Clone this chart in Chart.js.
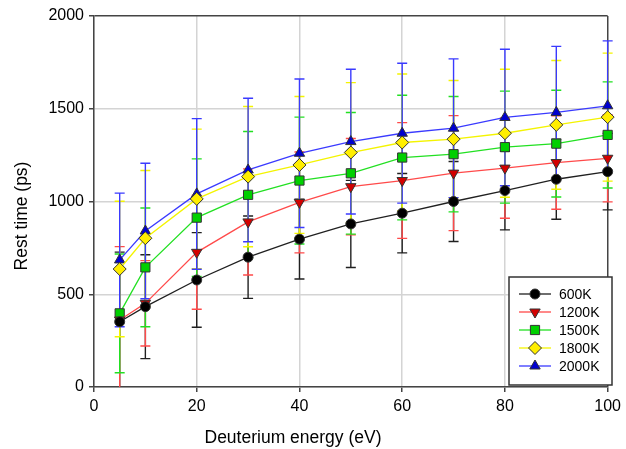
<!DOCTYPE html>
<html>
<head>
<meta charset="utf-8">
<script src="https://cdn.jsdelivr.net/npm/chart.js@4.4.0/dist/chart.umd.min.js"></script>
<style>
  html, body { margin: 0; padding: 0; background: #fff; }
  #wrap { width: 626px; height: 449px; }
</style>
</head>
<body>
<div id="wrap"><canvas id="grafico"></canvas></div>
<script>
// energia do deuterio (eV)
var energias = [5, 10, 20, 30, 40, 50, 60, 70, 80, 90, 100];

// tempo de repouso (ps) e barras de erro, uma serie por temperatura
var rotulos = ['600K', '1200K', '1500K', '1800K', '2000K'];
var t600  = [352, 433, 577, 700, 797, 879, 937, 1000, 1059, 1120, 1161];
var e600  = [375, 280, 255, 222, 215, 235, 214, 216, 212, 216, 206];
var t1200 = [361, 451, 726, 890, 995, 1080, 1113, 1153, 1180, 1210, 1233];
var e1200 = [396, 230, 307, 286, 272, 260, 312, 310, 270, 252, 235];
var t1500 = [397, 645, 913, 1036, 1113, 1152, 1237, 1255, 1293, 1312, 1359];
var e1500 = [320, 320, 317, 341, 342, 328, 336, 311, 302, 288, 286];
var t1800 = [636, 802, 1014, 1134, 1197, 1264, 1318, 1336, 1368, 1413, 1455];
var e1800 = [365, 365, 376, 378, 369, 377, 369, 316, 345, 347, 345];
var t2000 = [685, 841, 1041, 1170, 1260, 1323, 1368, 1395, 1453, 1480, 1516];
var e2000 = [360, 365, 406, 387, 400, 390, 377, 374, 368, 356, 350];

var ticksX = [0, 20, 40, 60, 80, 100];
var ticksY = [0, 500, 1000, 1500, 2000];
var tituloX = 'Deuterium energy (eV)';
var tituloY = 'Rest time (ps)';

var fonte = "'Liberation Sans', Arial, sans-serif";

var series = [
  { dados: t600,  erros: e600,  linha: '#202020', fundo: '#000000', estilo: 'circle',   raio: 5,   rot: 0 },
  { dados: t1200, erros: e1200, linha: '#ff4a4a', fundo: '#d40000', estilo: 'triangle', raio: 6,   rot: 180 },
  { dados: t1500, erros: e1500, linha: '#22e022', fundo: '#00d000', estilo: 'rect',     raio: 6.5, rot: 0 },
  { dados: t1800, erros: e1800, linha: '#f4f400', fundo: '#ffee00', estilo: 'rectRot',  raio: 6.5, rot: 0 },
  { dados: t2000, erros: e2000, linha: '#3a3aff', fundo: '#0000d0', estilo: 'triangle', raio: 6,   rot: 0 }
];

function criarDatasets() {
  return series.map(function (s, i) {
    return {
      label: rotulos[i],
      data: energias.map(function (x, j) { return { x: x, y: s.dados[j] }; }),
      borderColor: s.linha,
      borderWidth: 1.3,
      backgroundColor: s.fundo,
      pointBackgroundColor: s.fundo,
      pointBorderColor: '#333333',
      pointBorderWidth: 1,
      pointStyle: s.estilo,
      pointRadius: s.raio,
      pointRotation: s.rot,
      tension: 0,
      fill: false,
      clip: false
    };
  });
}

// barras de erro desenhadas com as escalas do grafico
var barrasErro = {
  id: 'barrasErro',
  beforeDatasetsDraw: function (chart) {
    var ctx = chart.ctx, xs = chart.scales.x, ys = chart.scales.y, area = chart.chartArea;
    ctx.save();
    ctx.beginPath();
    ctx.rect(area.left - 10, area.top - 1, area.right - area.left + 20, area.bottom - area.top + 1);
    ctx.clip();
    series.forEach(function (s) {
      ctx.strokeStyle = s.linha;
      ctx.lineWidth = 1.4;
      energias.forEach(function (x, j) {
        var px = xs.getPixelForValue(x);
        var alto = ys.getPixelForValue(s.dados[j] + s.erros[j]);
        var baixo = ys.getPixelForValue(s.dados[j] - s.erros[j]);
        ctx.beginPath();
        ctx.moveTo(px, alto); ctx.lineTo(px, baixo);
        ctx.moveTo(px - 5, alto); ctx.lineTo(px + 5, alto);
        ctx.moveTo(px - 5, baixo); ctx.lineTo(px + 5, baixo);
        ctx.stroke();
      });
    });
    ctx.restore();
  }
};

// legenda dentro da area do grafico e titulos dos eixos
var legendaTitulos = {
  id: 'legendaTitulos',
  afterDraw: function (chart) {
    var ctx = chart.ctx;
    ctx.save();
    ctx.fillStyle = '#000';
    ctx.font = '17.5px ' + fonte;
    ctx.textAlign = 'center';
    ctx.textBaseline = 'middle';
    ctx.fillText(tituloX, 293, 438);
    ctx.translate(22, 216);
    ctx.rotate(-Math.PI / 2);
    ctx.fillText(tituloY, 0, 0);
    ctx.restore();

    var bx = 509, by = 277, bw = 103, bh = 108;
    ctx.save();
    ctx.fillStyle = '#fff';
    ctx.fillRect(bx, by, bw, bh);
    ctx.strokeStyle = '#333';
    ctx.lineWidth = 1.5;
    ctx.strokeRect(bx, by, bw, bh);
    ctx.font = '14px ' + fonte;
    ctx.textBaseline = 'middle';
    ctx.textAlign = 'left';
    chart.data.datasets.forEach(function (ds, i) {
      var y = by + 17 + i * 18;
      ctx.strokeStyle = ds.borderColor;
      ctx.lineWidth = 1.3;
      ctx.beginPath();
      ctx.moveTo(bx + 10, y); ctx.lineTo(bx + 42, y);
      ctx.stroke();
      ctx.fillStyle = ds.pointBackgroundColor;
      ctx.strokeStyle = ds.pointBorderColor;
      ctx.lineWidth = 1;
      Chart.helpers.drawPoint(ctx, {
        pointStyle: ds.pointStyle, radius: ds.pointRadius, rotation: ds.pointRotation, borderWidth: 1
      }, bx + 26, y);
      ctx.fillStyle = '#000';
      ctx.fillText(ds.label, bx + 50, y + 1);
    });
    ctx.restore();
  }
};

var ctx = document.getElementById('grafico').getContext('2d');
var grafico = new Chart(ctx, {
  type: 'line',
  data: { datasets: criarDatasets() },
  options: {
    responsive: true,
    maintainAspectRatio: false,
    animation: false,
    layout: { padding: { top: 16, right: 17, left: 0, bottom: 0 } },
    plugins: { legend: { display: false }, tooltip: { enabled: false } },
    scales: {
      x: {
        type: 'linear',
        min: 0, max: 100,
        afterBuildTicks: function (s) { s.ticks = ticksX.map(function (v) { return { value: v }; }); },
        afterFit: function (s) { s.height = 62; },
        grid: {
          color: function (c) { return c.tick && c.tick.value === 100 ? '#444' : '#d4d4d4'; },
          lineWidth: 1.5,
          tickLength: 5,
          tickColor: '#444'
        },
        border: { color: '#444', width: 1.5 },
        ticks: {
          color: '#000', font: { family: fonte, size: 16 }, padding: 5, maxRotation: 0,
          callback: function (v) { return String(v); }
        }
      },
      y: {
        min: 0, max: 2000,
        afterBuildTicks: function (s) { s.ticks = ticksY.map(function (v) { return { value: v }; }); },
        afterFit: function (s) { s.width = 94; },
        grid: {
          color: function (c) { return c.tick && c.tick.value === 2000 ? '#444' : '#d4d4d4'; },
          lineWidth: 1.5,
          tickLength: 5,
          tickColor: '#444'
        },
        border: { color: '#444', width: 1.5 },
        ticks: {
          color: '#000', font: { family: fonte, size: 16 }, padding: 5,
          callback: function (v) { return String(v); }
        }
      }
    }
  },
  plugins: [barrasErro, legendaTitulos]
});
</script>
</body>
</html>
